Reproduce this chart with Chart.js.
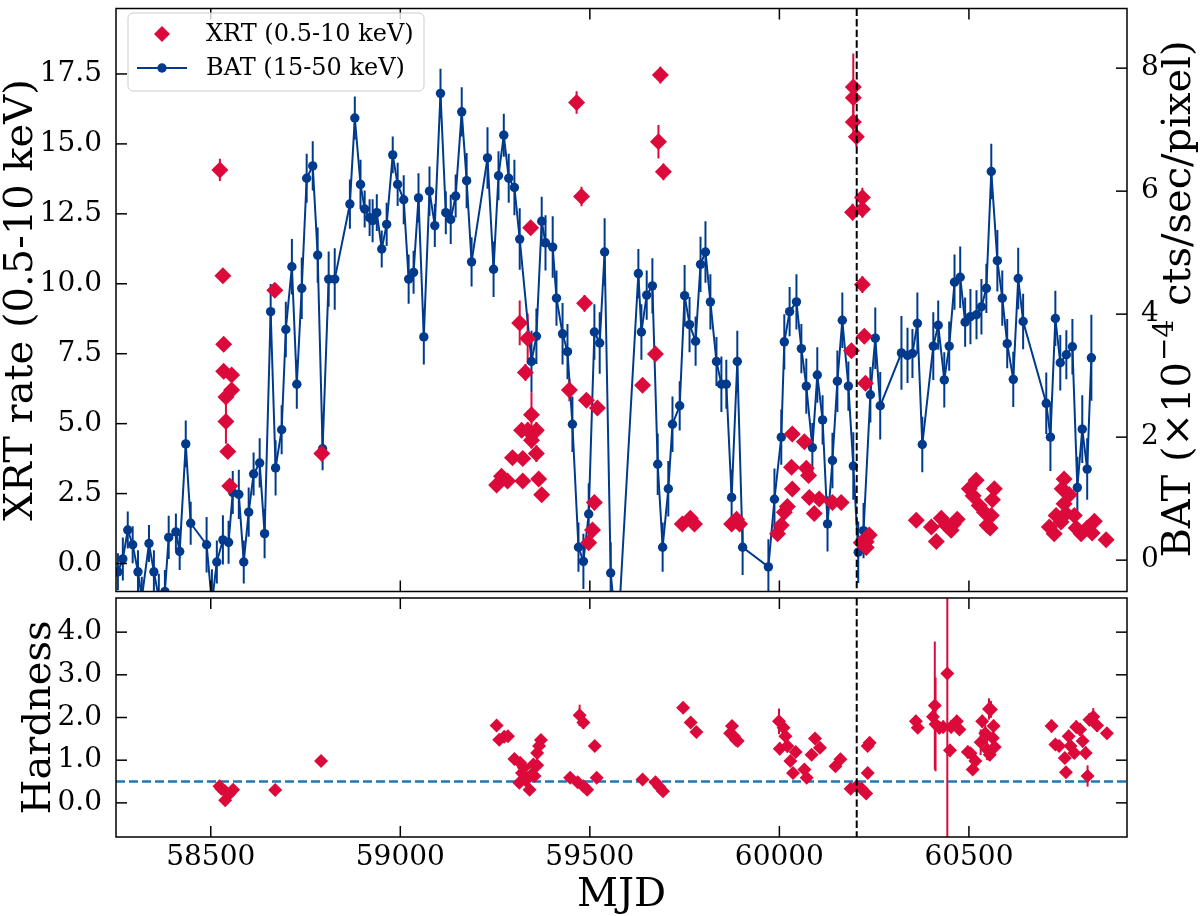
<!DOCTYPE html>
<html>
<head>
<meta charset="utf-8">
<script src="https://cdn.jsdelivr.net/npm/chart.js@4.4.1/dist/chart.umd.min.js"></script>
<style>
html, body { margin: 0; padding: 0; background: #fff; }
#wrap { position: relative; width: 1200px; height: 916px; overflow: hidden; }
#topChart { position: absolute; left: 0; top: 0; }
#bottomChart { position: absolute; left: 0; top: 590px; }
</style>
</head>
<body>
<div id="wrap">
  <canvas id="topChart" width="1200" height="600"></canvas>
  <canvas id="bottomChart" width="1200" height="326"></canvas>
</div>
<script>
// BAT (15-50 keV) light curve, units of 1e-4 cts/sec/pixel
var batMjd = [
  58255,58268,58281,58294,58308,58318,58337,58350,58363,58379,
  58389,58408,58418,58434,58447,58489,58503,58516,58532,58547,
  58558,58574,58587,58600,58613,58629,58642,58658,58671,58687,
  58698,58714,58727,58740,58753,58769,58782,58795,58811,58827,
  58867,58880,58895,58906,58919,58927,58938,58951,58964,58980,
  58993,59009,59022,59035,59048,59062,59077,59091,59106,59120,
  59133,59146,59162,59175,59188,59230,59246,59259,59273,59286,
  59301,59315,59346,59359,59373,59383,59402,59412,59428,59441,
  59454,59470,59483,59497,59512,59526,59539,59555,59573,59628,
  59636,59650,59665,59679,59692,59707,59718,59737,59750,59763,
  59779,59792,59805,59818,59834,59847,59860,59874,59889,59903,
  59971,59987,60005,60013,60027,60045,60058,60071,60087,60100,
  60114,60127,60140,60153,60166,60182,60195,60208,60222,60240,
  60253,60266,60322,60338,60351,60364,60377,60406,60419,60435,
  60448,60462,60477,60490,60504,60520,60533,60546,60559,60575,
  60588,60601,60617,60630,60643,60704,60715,60728,60741,60757,
  60773,60786,60799,60812,60823
];
var batRate = [
  -0.19,0.02,0.49,0.25,-0.19,-0.62,0.27,-0.19,-0.62,-0.51,
  0.37,0.46,0.14,1.89,0.60,0.25,-0.70,-0.03,0.33,0.29,
  1.10,1.07,-0.03,0.78,1.40,1.58,0.43,4.04,1.50,2.12,
  3.75,4.77,2.86,4.42,6.21,6.41,4.96,1.81,4.57,4.57,
  5.79,7.19,6.11,5.71,5.57,5.52,5.65,5.06,5.46,6.59,
  6.11,5.86,4.57,4.68,5.89,3.63,6.00,5.44,7.59,5.65,
  5.54,5.92,7.29,6.17,4.85,6.54,4.73,6.25,6.91,6.21,
  6.06,5.22,3.23,3.64,5.51,5.16,5.09,4.26,3.68,3.39,
  2.21,0.21,-0.02,0.75,3.71,3.53,5.01,-0.21,-1.34,4.66,
  3.71,4.31,4.46,1.56,0.21,1.16,2.21,2.51,4.30,3.83,
  3.56,4.81,5.01,4.20,3.23,2.86,2.86,1.02,3.23,0.21,
  -0.11,0.99,2.00,3.55,4.04,4.20,3.44,2.83,1.83,3.01,
  2.28,0.59,1.62,2.91,3.90,2.83,1.53,0.13,0.48,2.69,
  3.61,2.51,3.37,3.33,3.36,3.85,1.88,3.48,3.82,2.93,
  3.48,4.52,4.60,3.87,3.96,3.99,4.12,4.42,6.32,4.87,
  4.26,3.52,2.94,4.58,3.88,2.55,2.00,3.93,3.21,3.34,
  3.47,1.18,2.13,1.48,3.29
];
var batErr = [
  0.30,0.35,0.30,0.30,0.35,0.35,0.30,0.35,0.40,0.35,
  0.35,0.30,0.30,0.38,0.35,0.45,0.55,0.35,0.40,0.35,
  0.35,0.40,0.35,0.40,0.35,0.40,0.40,0.45,0.45,0.40,
  0.45,0.45,0.40,0.50,0.40,0.40,0.45,0.35,0.45,0.50,
  0.40,0.35,0.40,0.30,0.30,0.35,0.30,0.30,0.35,0.30,
  0.35,0.40,0.40,0.35,0.40,0.45,0.40,0.35,0.40,0.35,
  0.40,0.35,0.40,0.45,0.40,0.50,0.45,0.40,0.35,0.40,
  0.45,0.50,0.50,0.45,0.40,0.45,0.50,0.45,0.50,0.45,
  0.45,0.40,0.45,0.50,0.45,0.50,0.55,0.50,0.60,0.40,
  0.45,0.40,0.45,0.50,0.40,0.45,0.45,0.40,0.50,0.45,
  0.40,0.45,0.50,0.45,0.40,0.45,0.40,0.45,0.50,0.45,
  0.45,0.50,0.45,0.45,0.40,0.45,0.40,0.45,0.40,0.45,
  0.40,0.45,0.45,0.50,0.45,0.40,0.55,0.50,0.45,0.45,
  0.50,0.55,0.60,0.45,0.40,0.50,0.45,0.55,0.40,0.45,
  0.40,0.45,0.50,0.40,0.45,0.40,0.45,0.40,0.45,0.50,
  0.45,0.40,0.45,0.50,0.45,0.50,0.55,0.45,0.45,0.40,
  0.45,0.50,0.55,0.50,0.70
];

// XRT (0.5-10 keV) count rate
var xrtMjd = [
  58524,58532,58534,58534,58540,58540,58545,58550,58555,58555,
  58669,58793,59254,59267,59283,59296,59315,59320,59323,59323,
  59330,59336,59336,59344,59346,59346,59359,59359,59365,59373,
  59446,59465,59478,59486,59491,59497,59507,59512,59520,59639,
  59673,59681,59686,59694,59744,59765,59776,59874,59887,59895,
  59995,60005,60013,60021,60032,60034,60034,60066,60071,60077,
  60079,60092,60105,60140,60163,60190,60193,60195,60195,60195,
  60203,60216,60219,60219,60219,60224,60227,60229,60229,60237,
  60361,60401,60414,60427,60440,60453,60459,60469,60501,60511,
  60519,60527,60541,60548,60556,60559,60562,60567,60712,60725,
  60730,60743,60746,60751,60751,60756,60765,60778,60783,60796,
  60812,60825,60831,60862
];
var xrtRate = [
  14.07,10.29,7.84,6.87,5.95,5.08,4.00,2.77,6.74,6.20,
  9.77,3.93,2.81,3.12,2.95,3.78,8.60,4.76,3.75,2.95,
  6.83,8.04,4.76,12.00,5.32,4.41,4.76,3.93,3.02,2.46,
  6.20,16.48,13.12,9.30,5.84,0.74,1.20,2.18,5.56,6.37,
  7.49,15.08,17.46,14.00,1.41,1.62,1.41,1.41,1.58,1.41,
  1.06,1.37,1.83,2.04,3.44,4.63,2.66,4.35,3.41,3.15,
  2.36,1.79,2.31,2.18,2.18,7.61,12.56,17.03,16.65,15.78,
  15.26,0.74,13.08,12.66,9.97,8.12,6.44,0.78,0.57,1.02,
  1.55,1.31,0.79,1.62,1.37,1.19,1.41,1.58,2.67,2.42,
  2.98,2.07,1.83,1.37,1.27,1.72,2.28,2.67,1.31,1.06,
  1.72,1.48,2.67,3.02,2.14,1.79,2.46,1.72,1.27,1.06,
  1.27,1.09,1.51,0.85
];
var xrtErr = [
  0.40,0.20,0.20,0.25,0.30,0.80,0.25,0.20,0.25,0.25,
  0.25,0.25,0.15,0.15,0.15,0.20,0.80,0.25,0.20,0.20,
  0.30,0.90,0.30,0.25,0.80,0.30,0.30,0.30,0.20,0.20,
  0.40,0.40,0.35,0.30,0.25,0.15,0.20,0.20,0.25,0.25,
  0.25,0.60,0.30,0.30,0.10,0.10,0.10,0.10,0.15,0.10,
  0.15,0.15,0.15,0.15,0.20,0.20,0.15,0.20,0.20,0.20,
  0.15,0.15,0.15,0.15,0.15,0.25,0.30,1.20,0.50,0.40,
  0.35,0.15,0.35,0.30,0.30,0.25,0.25,0.15,0.15,0.15,
  0.10,0.10,0.10,0.10,0.10,0.10,0.10,0.10,0.15,0.15,
  0.15,0.15,0.15,0.10,0.10,0.15,0.15,0.15,0.10,0.10,
  0.10,0.10,0.15,0.20,0.15,0.10,0.15,0.10,0.10,0.10,
  0.10,0.10,0.10,0.10
];

// hardness ratio
var hrMjd = [
  58523,58528,58538,58538,58548,58559,58670,58791,59254,59261,
  59274,59284,59301,59314,59316,59321,59326,59331,59341,59346,
  59351,59354,59361,59361,59366,59371,59448,59468,59473,59483,
  59483,59493,59513,59518,59639,59673,59683,59693,59746,59766,
  59781,59870,59875,59880,59885,59890,59999,60001,60011,60016,
  60021,60029,60036,60043,60066,60072,60085,60094,60107,60148,
  60161,60188,60204,60217,60229,60233,60233,60238,60360,60365,
  60405,60410,60412,60422,60432,60443,60450,60453,60468,60475,
  60497,60504,60510,60517,60531,60535,60543,60548,60553,60555,
  60558,60563,60565,60568,60718,60728,60738,60753,60756,60763,
  60768,60778,60783,60793,60800,60808,60813,60818,60828,60838,
  60864
];
var hrVal = [
  0.39,0.33,0.27,0.06,0.20,0.31,0.30,0.98,1.81,1.48,
  1.55,1.56,1.03,0.47,0.94,0.70,0.82,0.53,0.31,0.66,
  0.90,0.63,1.17,0.88,1.33,1.47,0.59,0.48,2.05,1.88,
  0.39,0.31,1.33,0.59,0.55,0.48,0.38,0.27,2.23,1.88,
  1.66,1.63,1.80,1.56,1.48,1.45,1.91,1.27,1.76,1.56,
  1.33,0.98,0.70,1.19,0.78,0.59,1.13,1.51,1.29,0.86,
  1.02,0.33,0.39,0.33,0.22,0.70,1.33,1.41,1.91,1.76,
  2.02,2.28,1.84,1.76,1.78,3.03,1.23,1.78,1.91,1.72,
  1.19,1.16,0.78,0.98,1.42,1.91,1.63,1.25,2.20,1.13,
  2.19,1.52,1.80,1.31,1.80,1.37,1.33,1.05,0.72,1.56,
  1.33,1.17,1.78,1.72,1.45,1.17,0.63,1.95,2.02,1.81,
  1.63
];
var hrErr = [
  0.08,0.08,0.08,0.08,0.08,0.08,0.08,0.08,0.10,0.10,
  0.10,0.10,0.10,0.10,0.10,0.10,0.12,0.10,0.10,0.12,
  0.12,0.12,0.12,0.12,0.12,0.10,0.08,0.08,0.25,0.15,
  0.08,0.08,0.10,0.08,0.08,0.08,0.08,0.08,0.08,0.10,
  0.12,0.10,0.10,0.10,0.10,0.10,0.30,0.15,0.15,0.15,
  0.15,0.12,0.10,0.12,0.10,0.10,0.10,0.10,0.10,0.10,
  0.10,0.08,0.08,0.08,0.08,0.08,0.10,0.10,0.15,0.10,
  0.25,1.50,1.10,0.15,0.15,4.20,0.15,0.15,0.15,0.10,
  0.15,0.12,0.10,0.15,0.30,0.15,0.20,0.25,0.25,0.15,
  0.20,0.20,0.15,0.15,0.15,0.10,0.10,0.10,0.10,0.15,
  0.10,0.10,0.15,0.15,0.15,0.15,0.25,0.15,0.20,0.15,
  0.10
];

var xTicks = [58500, 59000, 59500, 60000, 60500];
var transitionMjd = 60204;   // vertical dashed line
var hardnessLevel = 0.5;     // horizontal dashed line

var RED = '#dc0a3a';
var BLUE = '#003a8c';
var FONT = 'DejaVu Serif';
var TICK = 11;
var tickFont = { family: FONT, size: 28 };

Chart.defaults.font.family = FONT;
Chart.defaults.font.size = 28;
Chart.defaults.color = '#000';

function pts(xs, ys) {
  return xs.map(function(m, i) { return { x: m, y: ys[i] }; });
}

function line(ctx, x1, y1, x2, y2) {
  ctx.beginPath(); ctx.moveTo(x1, y1); ctx.lineTo(x2, y2); ctx.stroke();
}

// vertical error bars, drawn below the markers
var errorBarPlugin = {
  id: 'errorBars',
  beforeDatasetsDraw: function(chart) {
    var ctx = chart.ctx, a = chart.chartArea;
    ctx.save();
    ctx.beginPath();
    ctx.rect(a.left, a.top, a.right - a.left, a.bottom - a.top);
    ctx.clip();
    for (var d = chart.data.datasets.length - 1; d >= 0; d--) {
      var ds = chart.data.datasets[d];
      if (!ds.errors) continue;
      var xs = chart.scales.x, ys = chart.scales[ds.yAxisID];
      ctx.strokeStyle = ds.errColor;
      ctx.lineWidth = 2;
      ds.data.forEach(function(p, j) {
        var px = xs.getPixelForValue(p.x);
        line(ctx, px, ys.getPixelForValue(p.y - ds.errors[j]), px, ys.getPixelForValue(p.y + ds.errors[j]));
      });
    }
    // horizontal reference line of the hardness panel
    if (chart.options.plugins.errorBars && chart.options.plugins.errorBars.hline !== undefined) {
      var hy = chart.scales.y.getPixelForValue(chart.options.plugins.errorBars.hline);
      ctx.strokeStyle = '#1f77b4';
      ctx.lineWidth = 2.5;
      ctx.setLineDash([9, 4]);
      line(ctx, a.left, hy, a.right, hy);
    }
    ctx.restore();
  }
};

// axes box, inward ticks, dashed transition line, titles, legend
var framePlugin = {
  id: 'frame',
  afterDatasetsDraw: function(chart) {
    var ctx = chart.ctx, a = chart.chartArea, o = chart.options.plugins.frame;
    ctx.save();
    var vx = chart.scales.x.getPixelForValue(transitionMjd);
    ctx.strokeStyle = '#000';
    ctx.lineWidth = 2;
    ctx.setLineDash([7.4, 3.2]);
    line(ctx, vx, a.top, vx, a.bottom);
    ctx.setLineDash([]);

    ctx.lineWidth = 1.5;
    ctx.strokeRect(a.left, a.top, a.right - a.left, a.bottom - a.top);
    var xs = chart.scales.x;
    xs.ticks.forEach(function(t) {
      var px = xs.getPixelForValue(t.value);
      line(ctx, px, a.bottom, px, a.bottom - TICK);
      line(ctx, px, a.top, px, a.top + TICK);
    });
    var ys = chart.scales.y;
    ys.ticks.forEach(function(t) {
      var py = ys.getPixelForValue(t.value);
      line(ctx, a.left, py, a.left + TICK, py);
      if (!chart.scales.y2) line(ctx, a.right, py, a.right - TICK, py);
    });
    if (chart.scales.y2) {
      var y2 = chart.scales.y2;
      y2.ticks.forEach(function(t) {
        var py = y2.getPixelForValue(t.value);
        line(ctx, a.right, py, a.right - TICK, py);
      });
    }

    // axis titles
    ctx.fillStyle = '#000';
    ctx.font = '40px "' + FONT + '"';
    ctx.textBaseline = 'alphabetic';
    ctx.textAlign = 'center';
    var midY = (a.top + a.bottom) / 2;
    ctx.save();
    ctx.translate(o.leftTitleX, midY);
    ctx.rotate(-Math.PI / 2);
    ctx.fillText(o.leftTitle, 0, 0);
    ctx.restore();
    if (o.rightTitle) {
      // BAT (x10^-4 cts/sec/pixel) with a raised exponent
      var p1 = 'BAT (\u00d710', p2 = '\u22124', p3 = ' cts/sec/pixel)';
      ctx.font = '40px "' + FONT + '"';
      var w1 = ctx.measureText(p1).width, w3 = ctx.measureText(p3).width;
      ctx.font = '28px "' + FONT + '"';
      var w2 = ctx.measureText(p2).width;
      var total = w1 + w2 + w3;
      ctx.save();
      ctx.translate(o.rightTitleX, midY);
      ctx.rotate(-Math.PI / 2);
      ctx.textAlign = 'left';
      ctx.font = '40px "' + FONT + '"';
      ctx.fillText(p1, -total / 2, 0);
      ctx.font = '28px "' + FONT + '"';
      ctx.fillText(p2, -total / 2 + w1 + 1, -17);
      ctx.font = '40px "' + FONT + '"';
      ctx.fillText(p3, -total / 2 + w1 + w2 + 2, 0);
      ctx.restore();
    }
    if (o.bottomTitle) {
      ctx.textAlign = 'center';
      ctx.fillText(o.bottomTitle, (a.left + a.right) / 2, o.bottomTitleY);
    }

    if (o.legend) {
      ctx.fillStyle = 'rgba(255,255,255,0.8)';
      ctx.strokeStyle = '#cccccc';
      ctx.lineWidth = 1;
      ctx.beginPath();
      ctx.roundRect(128, 13, 296, 78, 5);
      ctx.fill();
      ctx.stroke();
      // XRT diamond
      ctx.fillStyle = RED;
      ctx.beginPath();
      ctx.moveTo(162, 26); ctx.lineTo(170, 34); ctx.lineTo(162, 42); ctx.lineTo(154, 34);
      ctx.closePath(); ctx.fill();
      // BAT line + circle
      ctx.strokeStyle = BLUE; ctx.lineWidth = 2;
      line(ctx, 137, 68, 187, 68);
      ctx.fillStyle = BLUE;
      ctx.beginPath(); ctx.arc(162, 68, 4.7, 0, Math.PI * 2); ctx.fill();
      ctx.fillStyle = '#000';
      ctx.font = '24px "' + FONT + '"';
      ctx.textAlign = 'left';
      ctx.textBaseline = 'middle';
      ctx.fillText('XRT (0.5-10 keV)', 206, 35);
      ctx.fillText('BAT (15-50 keV)', 206, 69);
    }
    ctx.restore();
  }
};

function xScale(showLabels, height) {
  return {
    type: 'linear', min: 58250, max: 60917,
    afterBuildTicks: function(s) { s.ticks = xTicks.map(function(v) { return { value: v }; }); },
    ticks: { display: showLabels, padding: -4, autoSkip: false, maxRotation: 0, font: tickFont,
             callback: function(v) { return String(v); } },
    grid: { display: false }, border: { display: false },
    afterFit: function(s) { s.height = height; s.paddingLeft = 0; s.paddingRight = 0; }
  };
}

var topChart = new Chart(document.getElementById('topChart'), {
  type: 'line',
  data: {
    datasets: [
      {
        label: 'XRT (0.5-10 keV)', data: pts(xrtMjd, xrtRate), errors: xrtErr, errColor: RED,
        yAxisID: 'y', showLine: false, pointStyle: 'rectRot', pointRadius: 8.5,
        pointBackgroundColor: RED, pointBorderWidth: 0, backgroundColor: RED, borderColor: RED
      },
      {
        label: 'BAT (15-50 keV)', data: pts(batMjd, batRate), errors: batErr, errColor: BLUE,
        yAxisID: 'y2', borderColor: BLUE, borderWidth: 2, tension: 0,
        pointStyle: 'circle', pointRadius: 4.7, pointBackgroundColor: BLUE, pointBorderWidth: 0
      }
    ]
  },
  options: {
    responsive: false, animation: false, devicePixelRatio: 1,
    layout: { padding: { top: 2, bottom: 2, left: 0, right: 0 } },
    plugins: {
      legend: { display: false }, tooltip: { enabled: false },
      frame: { leftTitle: 'XRT rate (0.5-10 keV)', leftTitleX: 32, rightTitle: true, rightTitleX: 1190, legend: true }
    },
    scales: {
      x: xScale(false, 0),
      y: {
        position: 'left', min: -1.0, max: 19.84,
        ticks: { stepSize: 2.5, includeBounds: false, padding: 6, font: tickFont,
                 callback: function(v) { return v.toFixed(1); } },
        grid: { display: false }, border: { display: false },
        afterFit: function(s) { s.width = 116; s.paddingTop = 0; s.paddingBottom = 0; }
      },
      y2: {
        position: 'right', min: -0.51, max: 8.97,
        ticks: { stepSize: 2, includeBounds: false, padding: 6, font: tickFont,
                 callback: function(v) { return String(v); } },
        grid: { display: false }, border: { display: false },
        afterFit: function(s) { s.width = 73; s.paddingTop = 0; s.paddingBottom = 0; }
      }
    }
  },
  plugins: [errorBarPlugin, framePlugin]
});

var bottomChart = new Chart(document.getElementById('bottomChart'), {
  type: 'line',
  data: {
    datasets: [{
      label: 'Hardness', data: pts(hrMjd, hrVal), errors: hrErr, errColor: RED,
      yAxisID: 'y', showLine: false, pointStyle: 'rectRot', pointRadius: 7,
      pointBackgroundColor: RED, pointBorderWidth: 0, backgroundColor: RED, borderColor: RED
    }]
  },
  options: {
    responsive: false, animation: false, devicePixelRatio: 1,
    layout: { padding: { top: 8, bottom: 0, left: 0, right: 73 } },
    plugins: {
      legend: { display: false }, tooltip: { enabled: false },
      errorBars: { hline: hardnessLevel },
      frame: { leftTitle: 'Hardness', leftTitleX: 50, bottomTitle: 'MJD', bottomTitleY: 316 }
    },
    scales: {
      x: xScale(true, 79),
      y: {
        position: 'left', min: -0.8, max: 4.8,
        ticks: { stepSize: 1, includeBounds: false, padding: 6, font: tickFont,
                 callback: function(v) { return v.toFixed(1); } },
        grid: { display: false }, border: { display: false },
        afterFit: function(s) { s.width = 116; s.paddingTop = 0; s.paddingBottom = 0; }
      }
    }
  },
  plugins: [errorBarPlugin, framePlugin]
});
</script>
</body>
</html>
